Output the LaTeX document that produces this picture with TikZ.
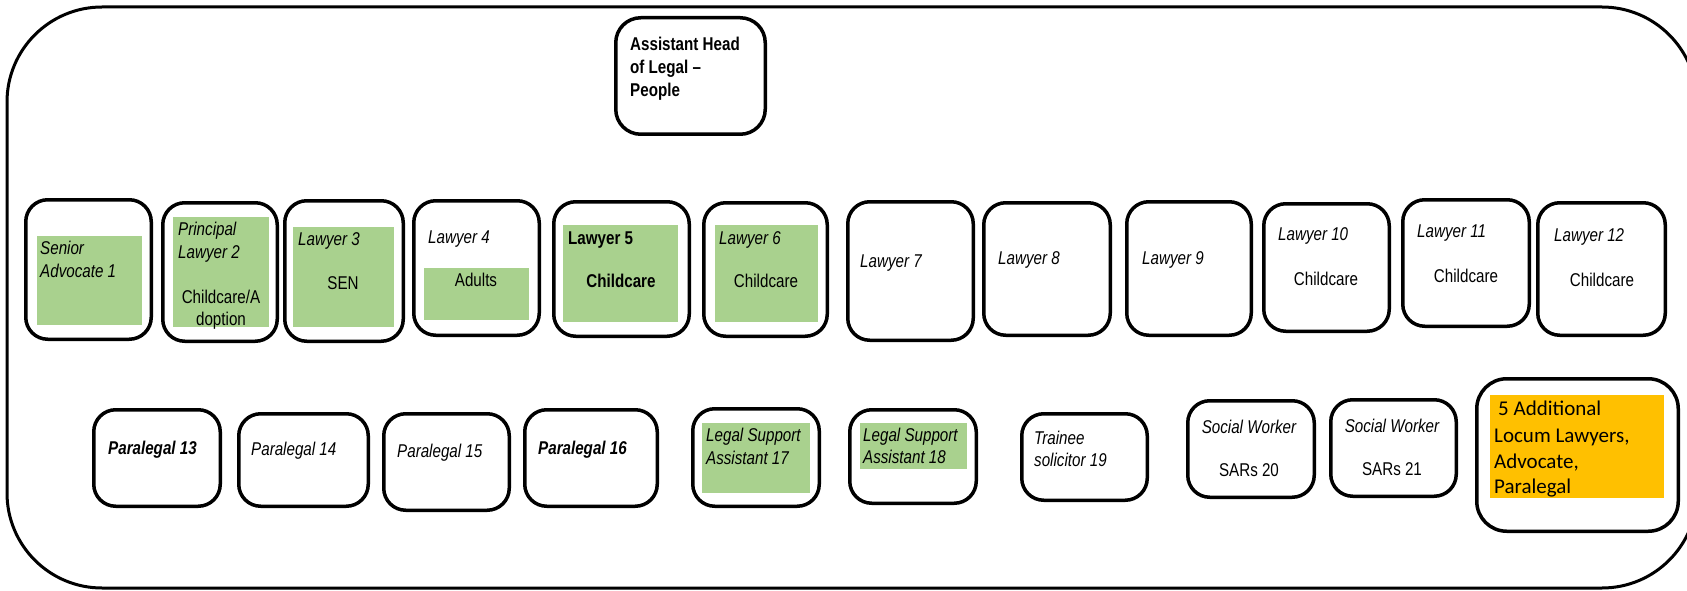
\documentclass[tikz,border=0pt]{standalone}
\usepackage{fontspec}
\newfontfamily\narrow{Liberation Sans}[FakeStretch=0.82]
\newfontfamily\calib{Carlito}
\definecolor{lgreen}{HTML}{A9D18E}
\definecolor{lorange}{HTML}{FFC000}
\newcommand\bx[6][]{\node[box,#1,minimum width={(#5-#3-3.5)*1pt},minimum height={(#6-#4-3.5)*1pt}] (#2) at ({(#3+#5)/2},{(#4+#6)/2}) {};}
\newcommand\gr[6][lgreen]{\node[hl,fill=#1,minimum width={(#5-#3)*1pt},minimum height={(#6-#4)*1pt}] (#2) at ({(#3+#5)/2},{(#4+#6)/2}) {};}
\tikzset{
  box/.style={draw, line width=3.5pt, rounded corners=22pt, inner sep=0pt, fill=white},
  hl/.style={inner sep=0pt, draw=none},
  outerbox/.style={draw, line width=3pt, rounded corners=95pt},
  tr/.style={inner sep=0pt, font=\narrow\fontsize{18.5}{23}\selectfont},
  ti/.style={tr, font=\narrow\fontsize{18.5}{23}\selectfont\itshape},
  tb/.style={tr, font=\narrow\fontsize{18.5}{23}\selectfont\bfseries},
  tbi/.style={tr, font=\narrow\fontsize{18.5}{23}\selectfont\bfseries\itshape},
  tc/.style={inner sep=0pt, font=\calib\fontsize{21}{26}\selectfont, anchor=base west},
}
\begin{document}
\begin{tikzpicture}[x=1pt,y=-1pt]
\useasboundingbox (0,0) rectangle (1687,591);
\fill[white] (0,0) rectangle (1687,591);
\begin{scope}
\clip (0,0) rectangle (1687,591);
\draw[outerbox] (7,7) rectangle (1697,588);
\end{scope}
% boxes
\bx[rounded corners=25pt]{head}{614}{16}{767}{136}
\bx{b1}{24}{198}{153}{341}
\bx{b2}{161}{201}{279}{343}
\bx{b3}{283}{199}{405}{343}
\bx{b4}{412}{199}{541}{337}
\bx{b5}{552}{200}{691}{338}
\bx{b6}{702}{201}{829}{338}
\bx{b7}{846}{200}{975}{342}
\bx{b8}{982}{201}{1112}{337}
\bx{b9}{1125}{200}{1253}{337}
\bx{b10}{1262}{202}{1391}{333}
\bx{b11}{1401}{198}{1531}{328}
\bx{b12}{1536}{201}{1667}{337}
\bx{p13}{92}{408}{222}{508}
\bx{p14}{237}{412}{370}{508}
\bx{p15}{382}{412}{511}{512}
\bx{p16}{523}{408}{659}{508}
\bx{l17}{691}{407}{821}{508}
\bx{l18}{848}{408}{978}{505}
\bx{t19}{1020}{412}{1149}{502}
\bx{s20}{1186}{399}{1316}{499}
\bx{s21}{1329}{398}{1458}{498}
\bx[rounded corners=30pt]{a22}{1475}{377}{1680}{533}
% highlights
\gr{g1}{37}{236}{142}{325}
\gr{g2}{173}{217}{269}{327}
\gr{g3}{293}{227}{394}{327}
\gr{g4}{424}{268}{529}{320}
\gr{g5}{563}{225}{678}{322}
\gr{g6}{715}{225}{818}{322}
\gr{g17}{702}{423}{810}{493}
\gr{g18}{860}{423}{967}{469}
\gr[lorange]{o22}{1490}{395}{1664}{498}
% texts
\node[tb,anchor=base west] (h1) at (630,51) {Assistant Head};
\node[tb,anchor=base west] (h2) at (630,74) {of Legal –};
\node[tb,anchor=base west] (h3) at (630,97) {People};
\node[ti,anchor=base west] (t1a) at (40,254) {Senior};
\node[ti,anchor=base west] (t1b) at (40,277) {Advocate 1};
\node[ti,anchor=base west] (t2a) at (178,235) {Principal};
\node[ti,anchor=base west] (t2b) at (178,258) {Lawyer 2};
\node[tr,anchor=base] (t2c) at (221,303) {Childcare/A};
\node[tr,anchor=base] (t2d) at (221,325) {doption};
\node[ti,anchor=base west] (t3a) at (298,245) {Lawyer 3};
\node[tr,anchor=base] (t3b) at (343,289) {SEN};
\node[ti,anchor=base west] (t4a) at (428,243) {Lawyer 4};
\node[tr,anchor=base] (t4b) at (476,286) {Adults};
\node[tb,anchor=base west] (t5a) at (568,244) {Lawyer 5};
\node[tb,anchor=base] (t5b) at (621,287) {Childcare};
\node[ti,anchor=base west] (t6a) at (719,244) {Lawyer 6};
\node[tr,anchor=base] (t6b) at (766,287) {Childcare};
\node[ti,anchor=base west] (t7a) at (860,267) {Lawyer 7};
\node[ti,anchor=base west] (t8a) at (998,264) {Lawyer 8};
\node[ti,anchor=base west] (t9a) at (1142,264) {Lawyer 9};
\node[ti,anchor=base west] (t10a) at (1278,240) {Lawyer 10};
\node[tr,anchor=base] (t10b) at (1326,285) {Childcare};
\node[ti,anchor=base west] (t11a) at (1417,237) {Lawyer 11};
\node[tr,anchor=base] (t11b) at (1466,282) {Childcare};
\node[ti,anchor=base west] (t12a) at (1554,241) {Lawyer 12};
\node[tr,anchor=base] (t12b) at (1602,286) {Childcare};
\node[tbi,anchor=base west] (t13) at (108,454) {Paralegal 13};
\node[ti,anchor=base west] (t14) at (251,455) {Paralegal 14};
\node[ti,anchor=base west] (t15) at (397,457) {Paralegal 15};
\node[tbi,anchor=base west] (t16) at (538,454) {Paralegal 16};
\node[ti,anchor=base west] (t17a) at (706,441) {Legal Support};
\node[ti,anchor=base west] (t17b) at (706,464) {Assistant 17};
\node[ti,anchor=base west] (t18a) at (863,441) {Legal Support};
\node[ti,anchor=base west] (t18b) at (863,463) {Assistant 18};
\node[ti,anchor=base west] (t19a) at (1034,444) {Trainee};
\node[ti,anchor=base west] (t19b) at (1034,466) {solicitor 19};
\node[ti,anchor=base] (t20a) at (1249,433) {Social Worker};
\node[tr,anchor=base] (t20b) at (1249,476) {SARs 20};
\node[ti,anchor=base] (t21a) at (1392,432) {Social Worker};
\node[tr,anchor=base] (t21b) at (1392,475) {SARs 21};
\node[tc] (t22a) at (1498,415) {5 Additional};
\node[tc] (t22b) at (1494,442) {Locum Lawyers,};
\node[tc] (t22c) at (1494,468) {Advocate,};
\node[tc] (t22d) at (1494,493) {Paralegal};
\end{tikzpicture}
\end{document}
